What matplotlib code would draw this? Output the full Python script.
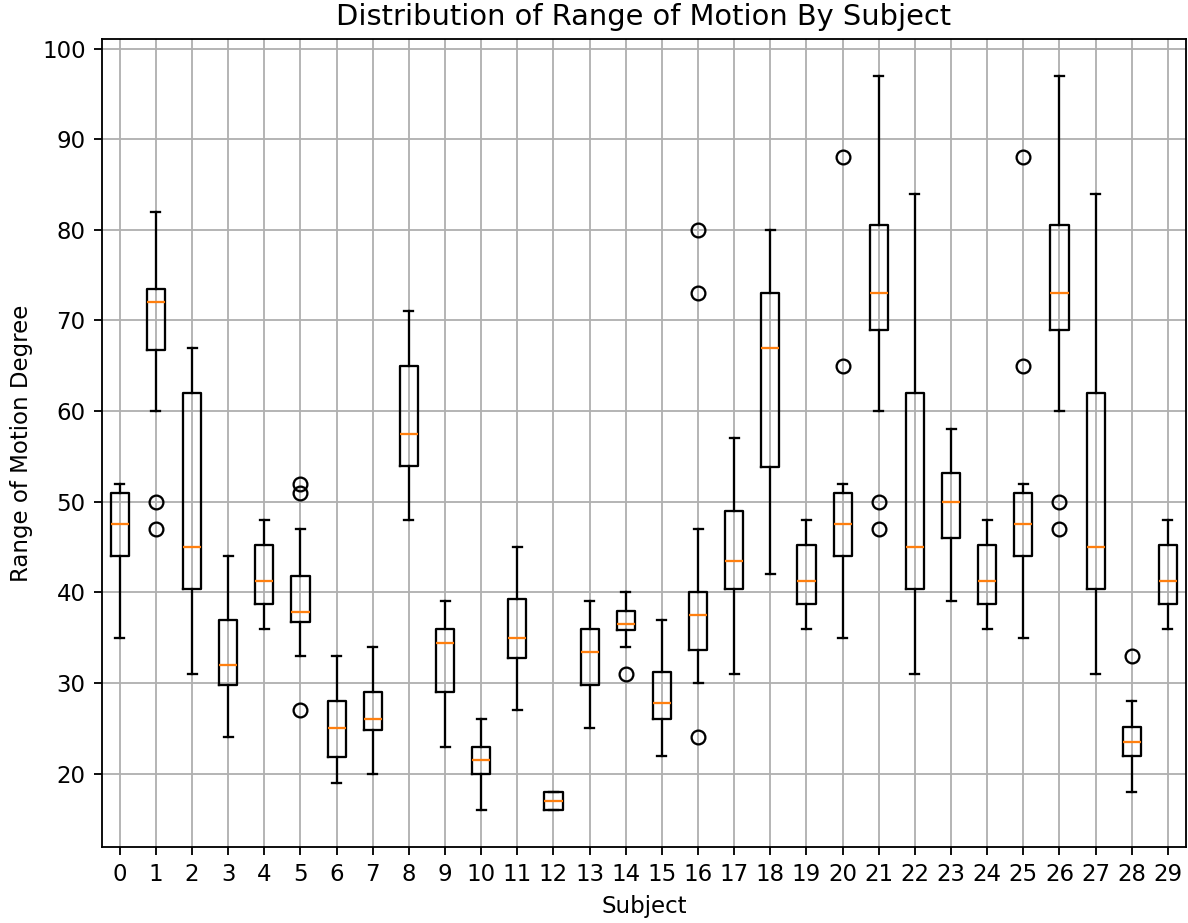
import matplotlib.pyplot as plt
import numpy as np

# box statistics read per subject (0..29)
subjects = list(range(30))
med = [47.5, 72, 45, 32, 41.3, 37.8, 25, 26, 57.5, 34.4,
       21.5, 35, 17, 33.4, 36.5, 27.8, 37.5, 43.5, 67, 41.3,
       47.5, 73, 45, 50, 41.3, 47.5, 73, 45, 23.5, 41.3]
q1 = [44, 66.7, 40.4, 29.8, 38.7, 36.7, 21.8, 24.8, 54, 29,
      20, 32.8, 16, 29.8, 35.8, 26, 33.6, 40.4, 53.8, 38.7,
      44, 69, 40.4, 46, 38.7, 44, 69, 40.4, 22, 38.7]
q3 = [51, 73.5, 62, 37, 45.2, 41.8, 28, 29, 65, 36,
      23, 39.3, 18, 36, 38, 31.2, 40, 49, 73, 45.2,
      51, 80.5, 62, 53.2, 45.2, 51, 80.5, 62, 25.2, 45.2]
whislo = [35, 60, 31, 24, 36, 33, 19, 20, 48, 23,
          16, 27, 16, 25, 34, 22, 30, 31, 42, 36,
          35, 60, 31, 39, 36, 35, 60, 31, 18, 36]
whishi = [52, 82, 67, 44, 48, 47, 33, 34, 71, 39,
          26, 45, 18, 39, 40, 37, 47, 57, 80, 48,
          52, 97, 84, 58, 48, 52, 97, 84, 28, 48]
fliers = [[], [50, 47], [], [], [], [52, 51, 27], [], [], [], [],
          [], [], [], [], [31], [], [80, 73, 24], [], [], [],
          [88, 65], [50, 47], [], [], [], [88, 65], [50, 47], [], [33], []]

stats = []
for i in subjects:
    stats.append({'med': med[i], 'q1': q1[i], 'q3': q3[i],
                  'whislo': whislo[i], 'whishi': whishi[i],
                  'fliers': np.array(fliers[i])})

dpi = 165
fig = plt.figure(figsize=(1188 / dpi, 923 / dpi), dpi=dpi)
ax = fig.add_axes([0.0856, 0.0827, 0.9127, 0.875])

ax.bxp(stats, positions=[s + 1 for s in subjects])
ax.set_xticks([s + 1 for s in subjects])
ax.set_xticklabels([str(s) for s in subjects])
ax.grid(True)

ax.set_title('Distribution of Range of Motion By Subject', fontsize=12.6)
ax.set_xlabel('Subject')
ax.set_ylabel('Range of Motion Degree')

fig.savefig('out.png', dpi=dpi)
